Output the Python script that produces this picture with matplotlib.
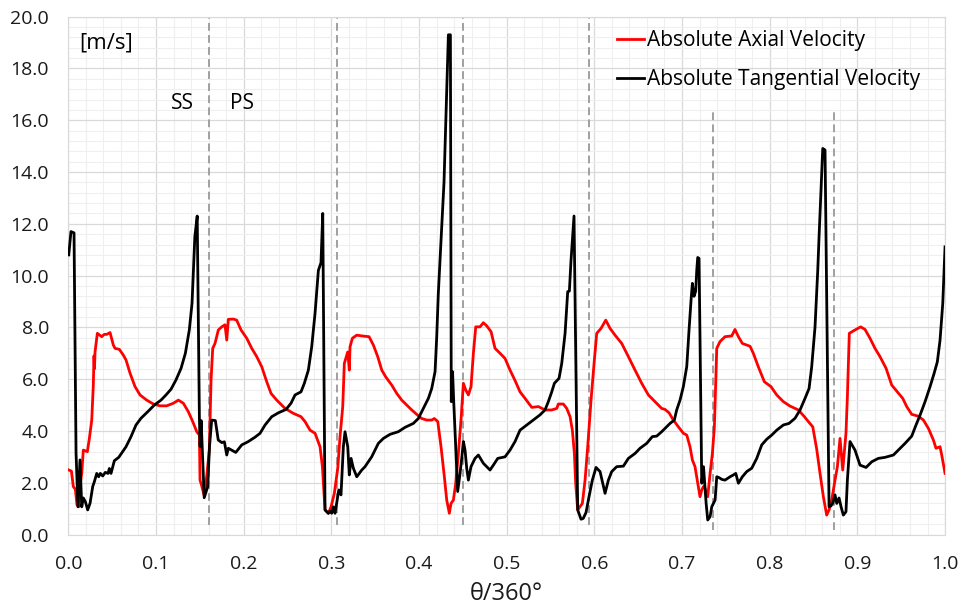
import numpy as np
import matplotlib.pyplot as plt
from matplotlib.ticker import MultipleLocator

plt.rcParams['font.family'] = ['Open Sans', 'DejaVu Sans']

# 각도 위치 (θ/360°) 와 절대 축방향 속도 [m/s]
axial_t = [0.0005, 0.0035, 0.0057, 0.008, 0.0099, 0.0118, 0.0137, 0.0153, 0.0171, 0.0217,
           0.024, 0.0267, 0.0285, 0.0293, 0.0298, 0.0305, 0.0331, 0.0381, 0.041, 0.0438,
           0.0476, 0.0513, 0.0533, 0.0582, 0.0627, 0.0658, 0.0704, 0.0761, 0.0818, 0.0894,
           0.097, 0.1046, 0.1122, 0.1198, 0.1255, 0.1312, 0.1369, 0.1419, 0.1465, 0.1495,
           0.1502, 0.152, 0.155, 0.158, 0.1608, 0.1628, 0.1647, 0.1673, 0.1711, 0.175,
           0.1787, 0.1807, 0.1825, 0.1882, 0.192, 0.197, 0.2035, 0.2092, 0.2149, 0.2206,
           0.2263, 0.2312, 0.2377, 0.2472, 0.2566, 0.2654, 0.27, 0.2757, 0.2814, 0.2871,
           0.2898, 0.2928, 0.2966, 0.2997, 0.3034, 0.3073, 0.3099, 0.313, 0.3148, 0.3176,
           0.3187, 0.3205, 0.3213, 0.324, 0.329, 0.3347, 0.343, 0.3479, 0.3529, 0.3575,
           0.362, 0.3689, 0.3746, 0.3803, 0.386, 0.3917, 0.3974, 0.4031, 0.4088, 0.4145,
           0.4175, 0.4214, 0.4251, 0.4289, 0.4316, 0.4346, 0.4365, 0.4392, 0.4419, 0.4449,
           0.4479, 0.4506, 0.4533, 0.4563, 0.4593, 0.462, 0.4647, 0.4696, 0.4734, 0.4772,
           0.4822, 0.4867, 0.4924, 0.4981, 0.5038, 0.5095, 0.5152, 0.5209, 0.5286, 0.5362,
           0.5437, 0.5514, 0.5571, 0.5589, 0.5646, 0.5685, 0.5723, 0.5749, 0.5772, 0.5787,
           0.581, 0.5836, 0.5863, 0.5894, 0.5924, 0.5962, 0.6, 0.6027, 0.6076, 0.613,
           0.6179, 0.6236, 0.6312, 0.6388, 0.6464, 0.654, 0.6616, 0.6692, 0.6768, 0.6806,
           0.6852, 0.6901, 0.6958, 0.7015, 0.7054, 0.7091, 0.7118, 0.7148, 0.7179, 0.7205,
           0.7225, 0.7244, 0.7262, 0.7293, 0.732, 0.7346, 0.7369, 0.7396, 0.7433, 0.749,
           0.7567, 0.7604, 0.7643, 0.7688, 0.7776, 0.7813, 0.787, 0.7939, 0.8015, 0.808,
           0.8156, 0.8232, 0.8327, 0.8396, 0.8441, 0.8491, 0.8536, 0.8574, 0.8612, 0.865,
           0.8677, 0.8707, 0.8745, 0.8772, 0.8802, 0.8833, 0.887, 0.8886, 0.8908, 0.8973,
           0.9038, 0.9087, 0.9144, 0.9201, 0.9258, 0.9327, 0.9392, 0.9456, 0.9517, 0.9563,
           0.962, 0.9695, 0.9753, 0.981, 0.9867, 0.9897, 0.9943, 0.9962, 1.0]
axial_v = [2.49, 2.45, 1.85, 1.75, 1.14, 1.07, 1.98, 2.36, 3.26, 3.2,
           3.71, 4.42, 5.77, 6.9, 6.4, 7.06, 7.77, 7.64, 7.73, 7.73,
           7.8, 7.32, 7.19, 7.15, 6.93, 6.74, 6.23, 5.71, 5.39, 5.19,
           5.04, 4.97, 4.97, 5.07, 5.19, 5.07, 4.74, 4.36, 3.97, 3.84,
           2.1, 1.9, 1.5, 2.3, 3.26, 5.97, 7.19, 7.38, 7.9, 8.02,
           8.1, 7.51, 8.31, 8.32, 8.28, 7.9, 7.58, 7.19, 6.87, 6.48,
           5.9, 5.45, 5.19, 4.87, 4.68, 4.55, 4.36, 4.03, 3.91, 3.39,
           2.62, 0.95, 0.82, 1.07, 1.59, 2.56, 3.78, 4.94, 6.61, 6.92,
           7.05, 6.35, 7.25, 7.58, 7.7, 7.67, 7.64, 7.32, 6.87, 6.35,
           6.09, 5.77, 5.45, 5.19, 5.0, 4.81, 4.64, 4.48, 4.42, 4.42,
           4.48, 4.36, 3.39, 2.23, 1.33, 0.82, 1.2, 1.33, 1.98, 3.13,
           4.42, 5.84, 5.58, 5.39, 5.71, 7.0, 8.02, 8.02, 8.18, 8.06,
           7.83, 7.19, 7.0, 6.8, 6.35, 5.95, 5.51, 5.26, 4.91, 4.94,
           4.81, 4.81, 4.87, 5.04, 5.04, 4.87, 4.55, 4.03, 3.13, 1.98,
           0.95, 1.07, 1.2, 2.1, 3.39, 5.19, 6.74, 7.77, 7.96, 8.28,
           7.96, 7.7, 7.38, 6.87, 6.35, 5.84, 5.39, 5.13, 4.87, 4.83,
           4.7, 4.42, 4.16, 3.91, 3.84, 3.39, 2.88, 2.62, 1.98, 1.46,
           1.72, 1.85, 1.78, 1.46, 2.36, 3.13, 4.16, 7.19, 7.45, 7.64,
           7.67, 7.92, 7.64, 7.38, 7.27, 7.0, 6.48, 5.9, 5.71, 5.39,
           5.13, 4.96, 4.81, 4.55, 4.36, 4.16, 3.3, 2.36, 1.46, 0.75,
           0.95, 1.33, 2.1, 2.62, 3.71, 2.49, 3.91, 5.32, 7.77, 7.9,
           8.02, 7.92, 7.58, 7.19, 6.87, 6.42, 5.77, 5.51, 5.26, 4.94,
           4.64, 4.57, 4.42, 4.1, 3.65, 3.33, 3.39, 3.07, 2.36]

# 절대 접선방향 속도 [m/s]
tang_t = [0.0005, 0.003, 0.0065, 0.0088, 0.011, 0.0133, 0.0153, 0.0171, 0.0194, 0.0221,
          0.0248, 0.0278, 0.0297, 0.0324, 0.0346, 0.0365, 0.0392, 0.0422, 0.0453, 0.0468,
          0.0487, 0.0525, 0.0575, 0.062, 0.0658, 0.0715, 0.0772, 0.0829, 0.0905, 0.0981,
          0.1057, 0.1114, 0.1171, 0.1228, 0.1286, 0.1335, 0.138, 0.1411, 0.1443, 0.147,
          0.1495, 0.1503, 0.1515, 0.155, 0.159, 0.161, 0.1635, 0.1677, 0.171, 0.175,
          0.178, 0.1807, 0.1825, 0.1856, 0.191, 0.1978, 0.2053, 0.213, 0.2187, 0.2244,
          0.232, 0.2396, 0.2483, 0.254, 0.2586, 0.2654, 0.2692, 0.2738, 0.2776, 0.2814,
          0.2852, 0.2882, 0.2902, 0.2928, 0.2966, 0.2985, 0.3004, 0.3023, 0.3042, 0.3073,
          0.3085, 0.311, 0.3137, 0.3156, 0.3187, 0.3205, 0.3225, 0.3251, 0.329, 0.3347,
          0.3384, 0.346, 0.3536, 0.3593, 0.367, 0.3764, 0.3841, 0.3935, 0.3992, 0.405,
          0.4107, 0.4145, 0.4183, 0.4202, 0.422, 0.4285, 0.4335, 0.4358, 0.4368, 0.4382,
          0.4395, 0.4441, 0.4468, 0.4487, 0.4506, 0.4525, 0.4544, 0.4563, 0.4593, 0.4639,
          0.4677, 0.4734, 0.481, 0.4848, 0.4898, 0.4981, 0.5038, 0.5095, 0.5152, 0.5229,
          0.5304, 0.538, 0.5437, 0.5475, 0.5514, 0.5544, 0.5597, 0.5628, 0.5666, 0.5696,
          0.5715, 0.5734, 0.5768, 0.581, 0.5848, 0.5873, 0.5905, 0.5939, 0.5977, 0.6019,
          0.6065, 0.6092, 0.6122, 0.616, 0.6198, 0.6255, 0.6331, 0.6388, 0.6464, 0.6521,
          0.6597, 0.6661, 0.6711, 0.6768, 0.6806, 0.6863, 0.6912, 0.6939, 0.6977, 0.7015,
          0.7054, 0.708, 0.7103, 0.7118, 0.7137, 0.7156, 0.7168, 0.7179, 0.7194, 0.7225,
          0.7245, 0.726, 0.7275, 0.7293, 0.732, 0.7339, 0.7377, 0.7396, 0.742, 0.7453,
          0.749, 0.7548, 0.7586, 0.7613, 0.7643, 0.7688, 0.7738, 0.7795, 0.7852, 0.7909,
          0.7966, 0.8023, 0.808, 0.8156, 0.822, 0.8289, 0.8346, 0.8403, 0.8449, 0.8479,
          0.8517, 0.8548, 0.8563, 0.8605, 0.8631, 0.8677, 0.8697, 0.8719, 0.8745, 0.8765,
          0.8791, 0.8814, 0.884, 0.887, 0.8886, 0.8916, 0.8973, 0.903, 0.9099, 0.9164,
          0.9239, 0.9316, 0.9411, 0.9467, 0.9544, 0.962, 0.9669, 0.9715, 0.9772, 0.9829,
          0.9875, 0.9912, 0.9943, 0.9974, 1.0]
tang_v = [10.8, 11.7, 11.65, 3.15, 1.07, 2.88, 1.07, 1.41, 1.27, 0.95,
          1.21, 1.85, 2.04, 2.36, 2.23, 2.36, 2.26, 2.4, 2.36, 2.55,
          2.36, 2.85, 2.98, 3.2, 3.39, 3.78, 4.23, 4.49, 4.74, 5.0,
          5.19, 5.39, 5.61, 5.97, 6.42, 7.0, 7.9, 8.93, 11.5, 12.3,
          4.5, 3.4, 4.4, 1.42, 1.85, 3.39, 4.42, 4.4, 3.65, 3.55,
          3.58, 3.07, 3.33, 3.27, 3.17, 3.46, 3.59, 3.76, 3.91, 4.23,
          4.55, 4.7, 4.83, 5.07, 5.39, 5.51, 5.84, 6.35, 7.25, 8.54,
          10.2, 10.5, 12.4, 0.95, 0.82, 0.9, 0.82, 1.07, 0.82, 1.46,
          1.72, 1.53, 3.39, 3.97, 3.39, 2.3, 2.94, 2.56, 2.23, 2.49,
          2.62, 3.0, 3.52, 3.71, 3.87, 3.97, 4.14, 4.29, 4.48, 4.87,
          5.26, 5.64, 6.29, 7.64, 9.3, 13.6, 19.3, 19.3, 5.13, 6.29,
          5.2, 1.66, 2.36, 2.94, 3.59, 3.26, 2.56, 2.1, 2.62, 2.94,
          3.07, 2.75, 2.49, 2.68, 2.94, 3.0, 3.26, 3.59, 4.03, 4.23,
          4.42, 4.62, 4.81, 5.13, 5.51, 5.84, 6.03, 6.61, 7.77, 9.38,
          9.4, 10.6, 12.3, 0.95, 0.59, 0.62, 0.85, 1.46, 2.1, 2.59,
          2.43, 2.04, 1.59, 2.1, 2.43, 2.62, 2.64, 2.94, 3.13, 3.33,
          3.52, 3.78, 3.8, 3.97, 4.1, 4.29, 4.42, 4.81, 5.19, 5.71,
          6.49, 7.9, 9.06, 9.7, 9.2, 9.4, 10.21, 10.7, 10.66, 1.98,
          2.62, 1.9, 1.2, 0.56, 0.69, 1.07, 1.33, 2.23, 2.2, 2.13,
          2.1, 2.23, 2.3, 2.36, 1.98, 2.23, 2.43, 2.56, 2.94, 3.46,
          3.68, 3.84, 4.03, 4.23, 4.29, 4.49, 4.81, 5.26, 5.64, 6.48,
          8.02, 10.2, 11.5, 14.91, 14.85, 1.07, 1.1, 1.2, 1.53, 1.2,
          1.41, 1.07, 0.75, 0.88, 2.1, 3.59, 3.26, 2.68, 2.59, 2.81,
          2.94, 2.98, 3.07, 3.26, 3.52, 3.8, 4.23, 4.61, 5.13, 5.71,
          6.22, 6.67, 7.51, 8.93, 11.11]

# 날개 위치 (점선) 과 그 높이
blade_t = [0.1605, 0.307, 0.4506, 0.594, 0.7354, 0.8737]
blade_lo = [0.37, 0.37, 0.37, 0.37, 0.17, 0.17]
blade_hi = [20.0, 20.0, 20.0, 20.0, 16.47, 16.47]

fig = plt.figure(figsize=(9.61, 6.11), dpi=100)
ax = fig.add_axes([0.0711, 0.1252, 0.9123, 0.8475])

ax.plot(axial_t, axial_v, color='#ff0000', lw=2.0, label='Absolute Axial Velocity', zorder=3)
ax.plot(tang_t, tang_v, color='#000000', lw=2.0, label='Absolute Tangential Velocity', zorder=4)
ax.vlines(blade_t, blade_lo, blade_hi, colors='#a0a0a0', linestyles=(0, (4, 2.2)), lw=1.4, zorder=2)

ax.set_xlim(0, 1.0)
ax.set_ylim(0, 20.0)
ax.xaxis.set_major_locator(MultipleLocator(0.1))
ax.xaxis.set_minor_locator(MultipleLocator(0.02))
ax.yaxis.set_major_locator(MultipleLocator(2.0))
ax.yaxis.set_minor_locator(MultipleLocator(0.4))
ax.xaxis.set_major_formatter(plt.FuncFormatter(lambda v, p: f'{v:.1f}'))
ax.yaxis.set_major_formatter(plt.FuncFormatter(lambda v, p: f'{v:.1f}'))
ax.grid(which='major', color='#d9d9d9', lw=0.9, zorder=0)
ax.grid(which='minor', color='#efefef', lw=0.8, zorder=0)
ax.set_axisbelow(True)
ax.tick_params(which='both', length=0, labelsize=14, colors='#1a1a1a')
ax.tick_params(axis='x', pad=15)
ax.tick_params(axis='y', pad=14)
for s in ax.spines.values():
    s.set_color('#d9d9d9')

fig.text(506 / 961, 1 - 594 / 611, 'θ/360°', fontsize=17, ha='center', va='center', color='#1a1a1a')
ax.text(0.013, 18.98, '[m/s]', fontsize=16, ha='left', va='center', color='#000000')
ax.text(0.1297, 16.66, 'SS', fontsize=15, ha='center', va='center', color='#000000')
ax.text(0.1976, 16.66, 'PS', fontsize=15, ha='center', va='center', color='#000000')

ax.legend(loc='upper left', bbox_to_anchor=(617 / 961, 1 - 30 / 611), bbox_transform=fig.transFigure,
          frameon=False, fontsize=15, handlelength=1.3, handletextpad=0.12,
          borderpad=0, borderaxespad=0, labelspacing=0.88)

fig.savefig('out.png', dpi=100)
